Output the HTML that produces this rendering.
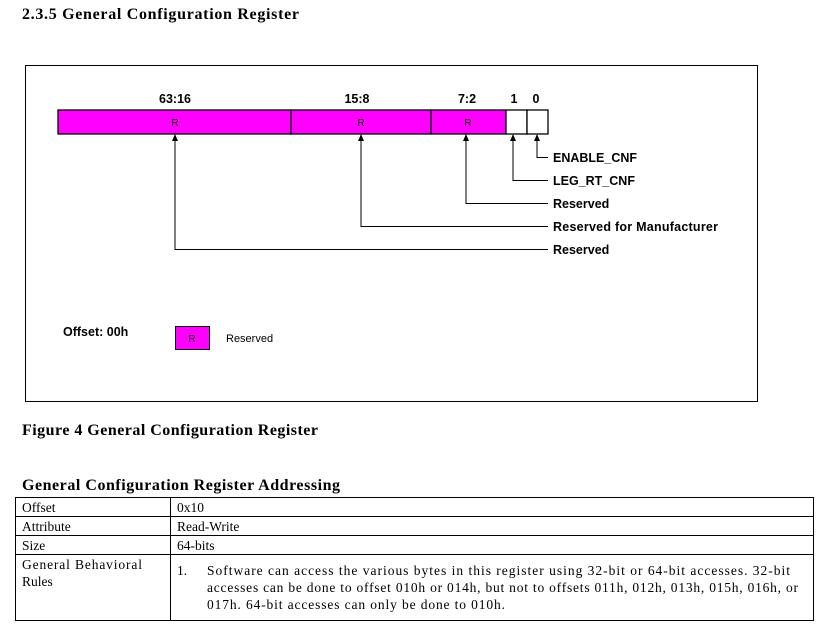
<!DOCTYPE html>
<html><head><style>
body{margin:0;width:829px;height:628px;background:#fff;position:relative;overflow:hidden}
svg{position:absolute;left:0;top:0}
</style></head><body>
<svg width="829" height="628" xmlns="http://www.w3.org/2000/svg">
<text x="22" y="19" font-family="Liberation Serif,serif" font-weight="bold" font-size="16" textLength="277">2.3.5  General Configuration Register</text>
<rect x="25.5" y="65.5" width="732" height="336" fill="none" stroke="#000" stroke-width="1"/>
<g font-family="Liberation Sans,sans-serif" font-weight="bold" font-size="12.5" text-anchor="middle">
<text x="175" y="103">63:16</text><text x="357" y="103">15:8</text><text x="467" y="103">7:2</text><text x="514" y="103">1</text><text x="536" y="103">0</text>
</g>
<g stroke="#000" stroke-width="1.3">
<rect x="58" y="110" width="233" height="24" fill="#ff00ff"/>
<rect x="291" y="110" width="140" height="24" fill="#ff00ff"/>
<rect x="431" y="110" width="75" height="24" fill="#ff00ff"/>
<rect x="506" y="110" width="21" height="24" fill="#fff"/>
<rect x="527" y="110" width="21" height="24" fill="#fff"/>
</g>
<g font-family="Liberation Sans,sans-serif" font-size="10" text-anchor="middle">
<text x="175" y="126">R</text><text x="361" y="126">R</text><text x="468" y="126">R</text>
</g>
<g stroke="#000" stroke-width="1" fill="none">
<polyline points="175,137 175,249.5 548,249.5"/>
<polyline points="361,137 361,226.5 548,226.5"/>
<polyline points="466,137 466,203.5 548,203.5"/>
<polyline points="513,137 513,180.5 548,180.5"/>
<polyline points="537,137 537,157.5 548,157.5"/>
</g>
<g fill="#000">
<polygon points="175,134 172,141 178,141"/><polygon points="361,134 358,141 364,141"/>
<polygon points="466,134 463,141 469,141"/><polygon points="513,134 510,141 516,141"/>
<polygon points="537,134 534,141 540,141"/>
</g>
<g font-family="Liberation Sans,sans-serif" font-weight="bold" font-size="12.5">
<text x="553" y="162">ENABLE_CNF</text><text x="553" y="185">LEG_RT_CNF</text>
<text x="553" y="208">Reserved</text><text x="553" y="231" textLength="165">Reserved for Manufacturer</text>
<text x="553" y="254">Reserved</text>
<text x="63" y="336">Offset: 00h</text>
</g>
<rect x="175.5" y="326.5" width="34" height="23" fill="#ff00ff" stroke="#000"/>
<text x="192" y="342" font-family="Liberation Sans,sans-serif" font-size="10" text-anchor="middle">R</text>
<text x="226" y="342" font-family="Liberation Sans,sans-serif" font-size="11">Reserved</text>
<text x="22" y="435" font-family="Liberation Serif,serif" font-weight="bold" font-size="16" textLength="296">Figure 4 General Configuration Register</text>
<text x="22" y="490" font-family="Liberation Serif,serif" font-weight="bold" font-size="16" textLength="318">General Configuration Register Addressing</text>
<g stroke="#000" stroke-width="1" fill="none">
<rect x="15.5" y="497.5" width="798" height="123"/>
<line x1="15" y1="516.5" x2="814" y2="516.5"/><line x1="15" y1="535.5" x2="814" y2="535.5"/>
<line x1="15" y1="554.5" x2="814" y2="554.5"/><line x1="170.5" y1="497" x2="170.5" y2="621"/>
</g>
<g font-family="Liberation Serif,serif" font-size="13.5">
<text x="22" y="512">Offset</text><text x="177" y="512">0x10</text>
<text x="22" y="531">Attribute</text><text x="177" y="531">Read-Write</text>
<text x="22" y="550">Size</text><text x="177" y="550">64-bits</text>
<text x="22" y="569" textLength="120">General Behavioral</text><text x="22" y="586">Rules</text>
<text x="177" y="575">1.</text>
<text x="207" y="575" textLength="583">Software can access the various bytes in this register using 32-bit or 64-bit accesses.  32-bit</text>
<text x="207" y="592" textLength="591">accesses can be done to offset 010h or 014h, but not to offsets 011h, 012h, 013h, 015h, 016h, or</text>
<text x="207" y="609" textLength="298">017h.  64-bit accesses can only be done to 010h.</text>
</g>
</svg>
</body></html>
